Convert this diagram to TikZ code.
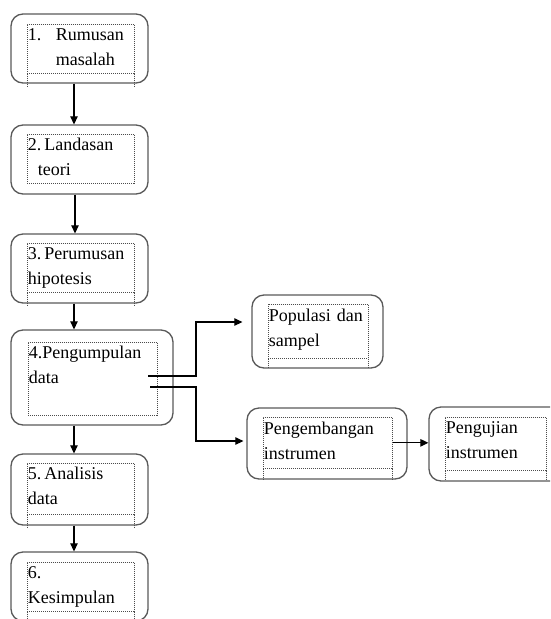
\documentclass[tikz,border=0pt]{standalone}
\usepackage{fontspec}
\setmainfont{Liberation Serif}
\usetikzlibrary{arrows.meta}

\begin{document}
\begin{tikzpicture}[x=1pt, y=-1pt,
  box/.style={draw=black!65, line width=1.3pt, rounded corners=12pt,
    minimum width=137pt, minimum height=69pt},
  isi/.style={draw=black!70, line width=0.7pt, dash pattern=on 1pt off 1pt,
    anchor=north west, inner sep=0pt, inner xsep=0.5pt, text width=106pt,
    align=left, text height=16pt, text depth=33pt,
    font=\fontsize{18}{25}\selectfont, text=black},
  ekor/.style={draw=black!70, line width=0.7pt, dash pattern=on 1pt off 1pt},
  panah/.style={draw=black, line width=1.2pt, -{Triangle[length=8pt,width=7.5pt]}}]
  \clip (0,0) rectangle (550,619);

  \node (1) [box] at (79.5,48.5) {};
  \node (t1) [isi] at (27,24) {\makebox[28pt][l]{1.}Rumusan\\\hspace*{28pt}masalah};
  \node (2) [box] at (79.5,159.5) {};
  \node (t2) [isi] at (27,134) {2.\,Landasan\\\hspace*{10pt}teori};
  \node (3) [box] at (79.5,268.5) {};
  \node (t3) [isi] at (27,243) {3.\,Perumusan\\hipotesis};
  \node (4) [box, minimum width=162pt, minimum height=95pt] at (92,377.5) {};
  \node (t4) [isi, text width=128pt, text depth=57pt] at (28,342) {4.Pengumpulan\\data};
  \node (5) [box, minimum height=71pt] at (79.5,489.5) {};
  \node (t5) [isi, text depth=35pt] at (27,463) {5.\,Analisis\\data};
  \node (6) [box] at (79.5,586.5) {};
  \node (t6) [isi] at (27,562) {6.\\Kesimpulan};

  \node (7) [box, minimum width=131pt, minimum height=73pt] at (317.5,331.5) {};
  \node (t7) [isi, text width=99pt, text height=17pt, text depth=37pt] at (268,304) {Populasi dan\\sampel};
  \node (8) [box, minimum width=160pt, minimum height=71pt] at (327,443.5) {};
  \node (t8) [isi, text width=128pt, text height=17pt, text depth=34pt] at (263,417) {Pengembangan\\instrumen};
  \node (9) [box, minimum width=145pt, minimum height=74pt] at (501.5,444) {};
  \node (t9) [isi, text width=100pt, text height=16pt, text depth=37pt] at (445,417) {Pengujian\\instrumen};

  % dotted tails below the text boxes
  \draw[ekor] (t1.south west) -- ++(0,14) (t1.south east) -- ++(0,14);
  \draw[ekor] (t3.south west) -- ++(0,14) (t3.south east) -- ++(0,14);
  \draw[ekor] (t5.south west) -- ++(0,14) (t5.south east) -- ++(0,14);
  \draw[ekor] (t6.south west) -- ++(0,14) (t6.south east) -- ++(0,14);
  \draw[ekor] (t7.south west) -- ++(0,9) (t7.south east) -- ++(0,9);
  \draw[ekor] (t8.south west) -- ++(0,12) (t8.south east) -- ++(0,12);
  \draw[ekor] (t9.south west) -- ++(0,10) (t9.south east) -- ++(0,10);

  \coordinate (4a) at (148,376);
  \coordinate (4b) at (150,387);

  \draw[panah] ([xshift=-5.5pt]1.south) -- ([xshift=-5.5pt]2.north);
  \draw[panah] ([xshift=-4.5pt]2.south) -- ([xshift=-4.5pt]3.north);
  \draw[panah] ([xshift=-5.5pt]3.south) -- ([xshift=-5.5pt]3.south |- 4.north);
  \draw[panah] ([xshift=-5.5pt]5.north |- 4.south) -- ([xshift=-5.5pt]5.north);
  \draw[panah] ([xshift=-5.5pt]5.south) -- ([xshift=-5.5pt]6.north);
  \draw[panah, shorten >=9pt] (4a) -- ++(48,0) |- ([yshift=9.5pt]7.west);
  \draw[panah, shorten >=3pt] (4b) -- ++(46,0) |- ([yshift=2.5pt]8.west);
  \draw[panah] (t8.east) -- (t8.east -| 9.west);
\end{tikzpicture}
\end{document}
